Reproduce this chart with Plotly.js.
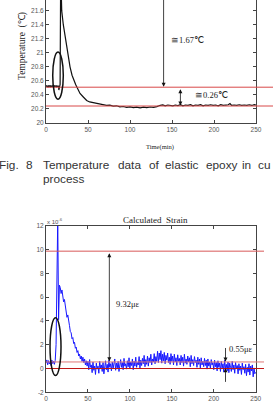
<!DOCTYPE html>
<html>
<head>
<meta charset="utf-8">
<script src="https://cdn.plot.ly/plotly-3.0.1.min.js"></script>
<style>
html,body{margin:0;padding:0;background:#fff;overflow:hidden;}
#chart{width:274px;height:409px;}
</style>
</head>
<body>
<div id="chart"></div>
<script>
// ---------- DATA ----------
// Temperature chart (Fig. 8)
const tempTime = [0,0.5,1,1.5,2,2.5,3,3.5,4,4.5,5,5.5,6,6.5,7,7.5,8,8.5,9,9.5,10,10.5,11,11.5,12,12.5,13,13.5,14,14.5,15,
  15.3,16,16.8,17.5,18.7,20.6,23,25.8,28.6,31,33.3,35.3,37.3,40.5,44.4,48.4,52,56.3,
  60,64,68,72,76,80,84,88,92,96,100,104,108,112,116,120,124,128,132,134,136,
  139,142,145,148,151,154,157,160,163,166,169,172,175,178,181,184,187,190,193,196,199,
  202,205,208,211,214,217,219,221,224,227,230,233,236,239,242,245,248,250];
const tempValues = [20.52,20.535,20.515,20.53,20.51,20.525,20.535,20.515,20.53,20.52,20.535,20.51,20.525,20.53,20.515,20.535,
  20.52,20.53,20.51,20.525,20.535,20.515,20.53,20.52,20.535,20.51,20.525,20.53,20.515,20.53,20.52,
  20.47,20.50,20.55,22.18,21.6,21.4,21.2,21.0,20.8,20.68,20.6,20.55,20.5,20.42,20.37,20.32,20.30,20.29,
  20.285,20.265,20.265,20.25,20.255,20.24,20.245,20.23,20.235,20.222,20.23,20.218,20.226,20.216,20.226,20.218,20.228,20.224,20.234,20.248,20.252,
  20.257,20.245,20.256,20.25,20.244,20.256,20.249,20.26,20.245,20.256,20.25,20.26,20.244,20.256,20.25,20.26,20.245,20.256,20.25,20.26,20.25,
  20.256,20.245,20.26,20.25,20.256,20.26,20.276,20.25,20.256,20.25,20.26,20.25,20.256,20.25,20.26,20.25,20.262,20.256];
const tempRefLevels = [20.51, 20.242];
const tempYTicks = [20,20.2,20.4,20.6,20.8,21,21.2,21.4,21.6];
const tempYTickText = ["20","20.2","20.4","20.6","20.8","21","21.2","21.4","21.6"];
const timeTicks = [0,50,100,150,200,250];
const timeTickText = ["0","50","100","150","200","250"];

// Calculated strain chart (x 10^-6), sampled every minute from t = 0
const strainValues = [
  0.45,0.72,0.31,0.66,0.38,0.58,0.25,0.70,0.42,0.61,
  0.35,0.68,2.0,9.3,12.6,4.1,7.0,6.8,6.3,6.6,
  5.9,5.6,5.8,5.1,4.9,4.3,4.5,3.8,3.6,3.1,
  3.0,2.5,2.6,2.1,2.2,1.7,1.8,1.35,1.5,1.05,
  1.2,0.8,1.05,0.6,0.95,0.5,0.8,0.3,0.65,0.2,
  0.6,-0.1,0.75,0.1,0.3,-0.35,0.55,-0.15,0.2,-0.5,
  0.45,-0.05,0.2,-0.4,0.6,0.05,0.3,-0.25,0.5,-0.45,
  0.15,0.65,-0.1,0.35,-0.3,0.7,0.1,0.4,-0.2,0.55,
  0.0,0.3,0.8,-0.15,0.45,0.05,0.6,-0.25,0.35,0.75,
  0.1,0.5,-0.1,0.85,0.2,0.4,-0.05,0.65,0.15,0.9,
  0.0,0.55,0.25,0.8,-0.1,0.6,0.2,0.95,0.1,0.5,
  0.3,1.0,0.05,0.7,0.25,0.85,0.4,1.1,0.15,0.75,
  0.35,1.05,0.2,0.9,0.5,1.2,0.3,0.8,0.55,1.25,
  0.4,1.0,0.6,1.45,0.5,1.3,0.75,1.5,0.45,1.2,
  0.65,1.35,0.4,1.1,0.7,1.3,0.5,0.95,0.35,1.25,
  0.6,1.05,0.3,1.2,0.55,0.9,0.25,1.15,0.6,0.85,
  0.3,1.1,0.5,0.95,0.2,1.2,0.45,0.8,0.35,1.05,
  0.55,0.9,0.15,1.1,0.4,0.75,0.25,1.0,0.5,0.7,
  0.1,0.95,0.35,0.8,0.05,0.9,0.3,0.6,0.15,0.85,
  0.25,0.7,-0.05,0.8,0.2,0.55,0.0,0.75,0.3,0.5,
  -0.1,0.7,0.15,0.5,-0.2,0.65,0.1,0.45,-0.25,0.6,
  0.05,0.4,-0.3,0.7,0.0,0.35,-0.2,0.55,-0.35,0.45,
  0.1,-0.25,0.6,-0.1,0.3,-0.4,0.5,0.0,0.25,-0.45,
  0.4,-0.15,0.2,-0.5,0.45,-0.1,0.15,-0.4,0.35,-0.6,
  0.1,-0.3,0.4,-0.55,0.2,-0.2,0.3,-0.7,0.05,-0.45,
  -0.3];
const strainRefLevels = [9.86, 0.55, 0];
const strainYTicks = [-2,0,2,4,6,8,10,12];
const strainYTickText = ["-2","0","2","4","6","8","10","12"];

// ---------- LAYOUT HELPERS (pixel -> paper) ----------
const W = 274, H = 409;
const px = v => v / W;
const py = v => 1 - v / H;

const SERIF = 'Liberation Serif, Times New Roman, serif';
const SANS = 'Liberation Sans, Arial, sans-serif';
const tickFont = {family: SANS, size: 6.5, color: '#555'};
const axisCommon = {
  showline: true, linecolor: '#444', linewidth: 1,
  ticks: 'inside', ticklen: 3, tickcolor: '#444', tickwidth: 1,
  showgrid: false, zeroline: false, tickfont: tickFont, fixedrange: true
};

const traces = [
  {x: tempTime, y: tempValues, type: 'scatter', mode: 'lines',
   line: {color: '#111', width: 1.2}, xaxis: 'x', yaxis: 'y', hoverinfo: 'skip'},
  {y: strainValues, x0: 0, dx: 1, type: 'scatter', mode: 'lines',
   line: {color: '#1818ff', width: 1}, xaxis: 'x2', yaxis: 'y2', hoverinfo: 'skip'}
];

const topX0 = px(46), topX1 = px(256);
const botX0 = px(46), botX1 = px(255.7);

const shapes = [
  {type: 'line', xref: 'paper', yref: 'y', x0: topX0, x1: px(273), y0: tempRefLevels[0], y1: tempRefLevels[0], line: {color: '#d84848', width: 1}},
  {type: 'line', xref: 'paper', yref: 'y', x0: topX0, x1: px(273), y0: tempRefLevels[1], y1: tempRefLevels[1], line: {color: '#d84848', width: 1}},
  {type: 'circle', xref: 'x', yref: 'y', x0: 8, x1: 20.6, y0: 20.34, y1: 21.01, line: {color: '#111', width: 1.5}},
  {type: 'line', xref: 'paper', yref: 'y2', x0: botX0, x1: px(264), y0: strainRefLevels[0], y1: strainRefLevels[0], line: {color: '#d85858', width: 1}},
  {type: 'line', xref: 'paper', yref: 'y2', x0: botX0, x1: px(264), y0: strainRefLevels[1], y1: strainRefLevels[1], line: {color: '#e07878', width: 1}},
  {type: 'line', xref: 'paper', yref: 'y2', x0: botX0, x1: px(264), y0: strainRefLevels[2], y1: strainRefLevels[2], line: {color: '#c01818', width: 1}},
  {type: 'circle', xref: 'x2', yref: 'y2', x0: 4.8, x1: 17.9, y0: -0.59, y1: 4.26, line: {color: '#111', width: 1.5}}
];

const arrowBase = {text: '', showarrow: true, arrowhead: 2, arrowsize: 1, arrowwidth: 0.8, arrowcolor: '#111'};
function arrow(xr, yr, x, y, ax, ay, both) {
  const a = Object.assign({}, arrowBase, {xref: xr, yref: yr, axref: xr, ayref: yr, x: x, y: y, ax: ax, ay: ay});
  if (both) { a.arrowside = 'end+start'; a.startarrowhead = 2; a.startarrowsize = 1; }
  return a;
}
function txt(text, x, y, size, family, opts) {
  return Object.assign({xref: 'paper', yref: 'paper', x: x, y: y, text: text, showarrow: false,
    xanchor: 'left', yanchor: 'middle', font: {family: family, size: size, color: '#222'}}, opts || {});
}
const capFont = {family: SANS, size: 11.8, color: '#333'};
function cap(text, x, y) { return txt(text, px(x), py(y), 11.8, SANS, {font: capFont}); }

const annotations = [
  // top chart arrows & labels
  arrow('x', 'y', 140, 20.515, 140, 22.4, false),
  arrow('x', 'y', 160, 20.25, 160, 20.503, true),
  {xref: 'x', yref: 'y', x: 146, y: 21.18, text: '≅1.67℃', showarrow: false, xanchor: 'left', yanchor: 'middle',
   font: {family: SERIF, size: 8.5, color: '#222'}},
  {xref: 'x', yref: 'y', x: 175, y: 20.4, text: '≅0.26℃', showarrow: false, xanchor: 'left', yanchor: 'middle',
   font: {family: SERIF, size: 8.5, color: '#222'}},
  txt('Temperature  (℃)', px(23), py(46), 9.5, SERIF, {xanchor: 'center', textangle: -90}),
  txt('Time(min)', px(159.5), py(146.7), 6.5, SERIF, {xanchor: 'center'}),
  // caption (justified line, clipped at the right edge like the reference)
  cap('Fig.', -3, 164.5),
  cap('8', 24, 164.5),
  cap('Temperature', 40.7, 164.5),
  cap('data', 116, 164.5),
  cap('of', 146.5, 164.5),
  cap('elastic', 163, 164.5),
  cap('epoxy', 204, 164.5),
  cap('in', 240, 164.5),
  cap('cu', 255.7, 164.5),
  cap('process', 40.7, 179),
  // bottom chart
  txt('Calculated  Strain', px(155), py(220), 9, SERIF, {xanchor: 'center'}),
  txt('x 10<sup>-6</sup>', px(45), py(221), 6, SANS, {font: {family: SANS, size: 6, color: '#555'}}),
  arrow('x2', 'y2', 75.5, 0.6, 75.5, 9.82, true),
  arrow('x2', 'y2', 214, 0.58, 214, 1.85, false),
  arrow('x2', 'y2', 214, 0.02, 214, -1.25, false),
  {xref: 'x2', yref: 'y2', x: 81, y: 5.46, text: '9.32με', showarrow: false, xanchor: 'left', yanchor: 'middle',
   font: {family: SERIF, size: 8.5, color: '#222'}},
  {xref: 'x2', yref: 'y2', x: 215.5, y: 1.6, text: '0.55με', showarrow: false, xanchor: 'left', yanchor: 'middle',
   font: {family: SERIF, size: 8.5, color: '#222'}}
];

const layout = {
  width: W, height: H,
  margin: {l: 0, r: 0, t: 0, b: 0, pad: 0},
  paper_bgcolor: '#fff', plot_bgcolor: '#fff',
  showlegend: false,
  xaxis: Object.assign({}, axisCommon, {domain: [topX0, topX1], range: [0, 250], anchor: 'y', mirror: false,
    tickvals: timeTicks, ticktext: timeTickText}),
  yaxis: Object.assign({}, axisCommon, {domain: [py(123), 1], range: [20, 21.752], anchor: 'x', mirror: 'ticks',
    tickvals: tempYTicks, ticktext: tempYTickText}),
  xaxis2: Object.assign({}, axisCommon, {domain: [botX0, botX1], range: [0, 250], anchor: 'y2', mirror: 'ticks',
    tickvals: timeTicks, ticktext: timeTickText}),
  yaxis2: Object.assign({}, axisCommon, {domain: [py(392.3), py(225.7)], range: [-2, 12], anchor: 'x2', mirror: 'ticks',
    tickvals: strainYTicks, ticktext: strainYTickText}),
  shapes: shapes,
  annotations: annotations
};

Plotly.newPlot('chart', traces, layout, {staticPlot: true, displayModeBar: false});
</script>
</body>
</html>
